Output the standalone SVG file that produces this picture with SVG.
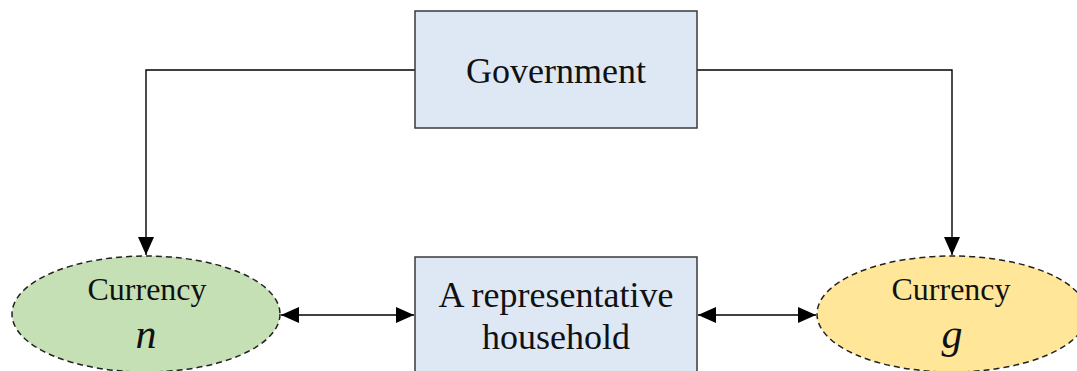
<svg xmlns="http://www.w3.org/2000/svg" width="1077" height="371" viewBox="0 0 1077 371">
<defs>
<marker id="ah" viewBox="0 0 18 16" refX="18" refY="8" markerWidth="18" markerHeight="16" markerUnits="userSpaceOnUse" orient="auto-start-reverse">
<path d="M0,0 L18,8 L0,16 Z" fill="#000"/>
</marker>
<style>
.box{fill:#dee8f5;stroke:#3a3a3a;stroke-width:1.5}
.ell{stroke:#222;stroke-width:1.5;stroke-dasharray:6,4}
.t{font-family:"Liberation Serif",serif;fill:#111;text-anchor:middle}
.m{font-family:"Liberation Serif",serif;font-style:italic;fill:#111;text-anchor:middle}
.c{fill:none;stroke:#000;stroke-width:1.4}
</style>
</defs>
<g id="connectors">
<path class="c" d="M415,70 H146 V255" marker-end="url(#ah)"/>
<path class="c" d="M697,70 H952 V255" marker-end="url(#ah)"/>
<path class="c" d="M281,315 H414" marker-start="url(#ah)" marker-end="url(#ah)"/>
<path class="c" d="M698,315 H816" marker-start="url(#ah)" marker-end="url(#ah)"/>
</g>
<g id="government">
<rect class="box" x="415" y="11" width="282" height="117"/>
<text class="t" x="556" y="83" font-size="36">Government</text>
</g>
<g id="household">
<rect class="box" x="415" y="257" width="282" height="130"/>
<text class="t" x="556" y="307" font-size="36">A representative</text>
<text class="t" x="556" y="349" font-size="36">household</text>
</g>
<g id="currency-n">
<ellipse class="ell" cx="146" cy="314" rx="134" ry="58" fill="#c5e0b4"/>
<text class="t" x="147" y="300" font-size="32">Currency</text>
<text class="m" x="146" y="348" font-size="42">n</text>
</g>
<g id="currency-g">
<ellipse class="ell" cx="952" cy="314" rx="135" ry="58" fill="#ffe699"/>
<text class="t" x="951" y="300" font-size="32">Currency</text>
<text class="m" x="952" y="348" font-size="42">g</text>
</g>
</svg>
